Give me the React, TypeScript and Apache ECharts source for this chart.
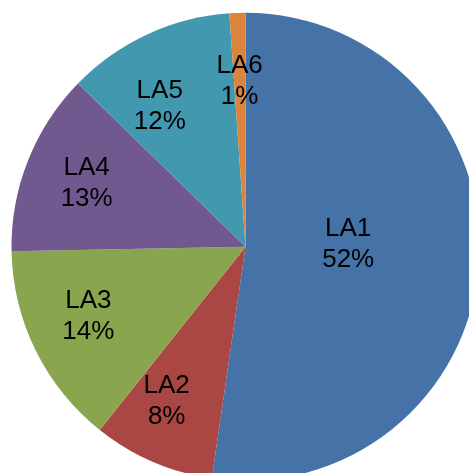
import React, { useEffect, useRef } from "react";
import * as echarts from "echarts";

const categories = ["LA1", "LA2", "LA3", "LA4", "LA5", "LA6"];
const values = [52.3, 8.4, 14.0, 12.6, 11.6, 1.1];
const colors = ["#4572A7", "#AA4643", "#89A54E", "#71588F", "#4198AF", "#DB843D"];

const CX = 245.5;
const CY = 246.8;
const R = 234;

// label placement tweaks (layout only): radial fraction and pixel nudge per slice
const LABEL_RADIUS = [0.44, 0.73, 0.73, 0.73, 0.73, 0.73];
const LABEL_NUDGE: [number, number][] = [
  [0, -12],
  [-11, -4],
  [-4, -8],
  [0, -2],
  [-14, 13],
  [0, 3],
];

export default function App() {
  const ref = useRef<HTMLDivElement>(null);
  useEffect(() => {
    const chart = echarts.init(ref.current!, null, { renderer: "svg" });
    chart.setOption({
      animation: false,
      series: [
        {
          type: "pie",
          center: [CX, CY],
          radius: R,
          startAngle: 90,
          clockwise: true,
          silent: true,
          data: categories.map((name, i) => ({
            name,
            value: values[i],
            itemStyle: { color: colors[i] },
          })),
          label: {
            show: true,
            position: "inside",
            formatter: (p: any) => `${p.name}\n${Math.round(p.percent)}%`,
            color: "#000",
            fontFamily: "Liberation Sans",
            fontSize: 26,
            lineHeight: 31,
          },
          labelLine: { show: false },
          itemStyle: { borderWidth: 0 },
          emphasis: { disabled: true },
          labelLayout: (params: any) => {
            const rect = params.labelRect;
            const x = rect.x + rect.width / 2;
            const y = rect.y + rect.height / 2;
            const vx = x - CX;
            const vy = y - CY;
            const len = Math.hypot(vx, vy) || 1;
            const i = params.dataIndex;
            const target = LABEL_RADIUS[i] * R;
            return {
              dx: (vx / len) * (target - len) + LABEL_NUDGE[i][0],
              dy: (vy / len) * (target - len) + LABEL_NUDGE[i][1],
            };
          },
        },
      ],
    });
    return () => chart.dispose();
  }, []);
  return (
    <div
      ref={ref}
      style={{ position: "fixed", left: 0, top: 0, width: 469, height: 473 }}
    />
  );
}
